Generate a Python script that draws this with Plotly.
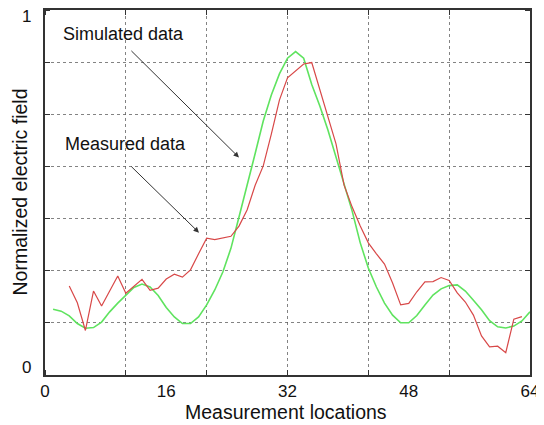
import plotly.graph_objects as go

# Sample positions (measurement index; axis labels 0..64 sit at indices 0,15,30,45,60)
measured_x = list(range(3, 60))
measured_y = [0.244, 0.198, 0.122, 0.230, 0.189, 0.232, 0.271, 0.224, 0.244, 0.262,
              0.232, 0.238, 0.263, 0.276, 0.268, 0.288, 0.332, 0.375, 0.371, 0.375,
              0.380, 0.408, 0.452, 0.520, 0.573, 0.660, 0.753, 0.814, 0.833, 0.852,
              0.856, 0.780, 0.707, 0.633, 0.520, 0.460, 0.408, 0.362, 0.332, 0.304,
              0.252, 0.192, 0.196, 0.228, 0.255, 0.256, 0.267, 0.259, 0.225, 0.200,
              0.164, 0.107, 0.077, 0.079, 0.061, 0.153, 0.160]

simulated_x = list(range(1, 61))
simulated_y = [0.180, 0.175, 0.162, 0.141, 0.128, 0.130, 0.145, 0.173, 0.197, 0.219,
               0.240, 0.249, 0.241, 0.218, 0.185, 0.159, 0.141, 0.141, 0.159, 0.192,
               0.233, 0.282, 0.347, 0.433, 0.517, 0.607, 0.696, 0.767, 0.825, 0.868,
               0.886, 0.868, 0.796, 0.737, 0.671, 0.595, 0.521, 0.449, 0.362, 0.293,
               0.241, 0.197, 0.164, 0.143, 0.143, 0.163, 0.192, 0.219, 0.236, 0.245,
               0.247, 0.230, 0.205, 0.179, 0.149, 0.132, 0.129, 0.134, 0.148, 0.173]

x_tick_vals = [0, 15, 30, 45, 60]
x_tick_text = ["0", "16", "32", "48", "64"]
y_tick_vals = [0, 1]
y_tick_text = ["0", "1"]

FONT = "Liberation Sans, Arial, sans-serif"
GRID = "rgba(90,90,90,0.75)"

fig = go.Figure()
fig.add_trace(go.Scatter(x=simulated_x, y=simulated_y, mode="lines",
                         line=dict(color="#5fe35f", width=1.6), name="Simulated data"))
fig.add_trace(go.Scatter(x=measured_x, y=measured_y, mode="lines",
                         line=dict(color="#d84848", width=1.2), name="Measured data"))

annots = [
    dict(x=9.77, y=0.933, xref="x", yref="y", text="Simulated data", showarrow=False,
         font=dict(size=18, color="#111")),
    dict(x=10.0, y=0.632, xref="x", yref="y", text="Measured data", showarrow=False,
         font=dict(size=18, color="#111")),
    dict(x=24.0, y=0.596, xref="x", yref="y", ax=10.5, ay=0.892, axref="x", ayref="y",
         text="", showarrow=True, arrowhead=2, arrowsize=1.1, arrowwidth=1,
         arrowcolor="#333"),
    dict(x=19.05, y=0.390, xref="x", yref="y", ax=10.5, ay=0.575, axref="x", ayref="y",
         text="", showarrow=True, arrowhead=2, arrowsize=1.1, arrowwidth=1,
         arrowcolor="#333"),
    # axis titles
    dict(x=-0.0536, y=0.5, xref="paper", yref="paper", text="Normalized electric field",
         textangle=-90, showarrow=False, xanchor="center", yanchor="middle",
         font=dict(size=19.5, color="#111")),
    dict(x=0.497, y=-0.1, xref="paper", yref="paper", text="Measurement locations",
         showarrow=False, xanchor="center", yanchor="middle",
         font=dict(size=19.5, color="#111")),
]
# y tick labels, nudged inside the axis ends as in the original figure
for v, t, shift in zip(y_tick_vals, y_tick_text, [8, -6]):
    annots.append(dict(x=-0.0247, y=v, xref="paper", yref="y", text=t, showarrow=False,
                       xanchor="right", yanchor="middle", yshift=shift,
                       font=dict(size=17, color="#111")))

# page body has an 8px margin, so the figure is sized/offset to compensate
fig.update_layout(
    width=536, height=417,
    margin=dict(l=37, r=14, t=2, b=50),
    paper_bgcolor="white", plot_bgcolor="white",
    showlegend=False,
    font=dict(family=FONT, size=17, color="#111"),
    annotations=annots,
)
fig.update_xaxes(
    range=[0, 60], tickmode="array", tickvals=x_tick_vals, ticktext=x_tick_text,
    ticks="", showgrid=False, zeroline=False, automargin=False,
    showline=True, linecolor="#333", linewidth=1.5, mirror="allticks",
    minor=dict(dtick=10, tick0=0, showgrid=True, gridcolor=GRID, griddash="dot",
               gridwidth=1, ticks="inside", ticklen=5, tickcolor="#333"),
    tickfont=dict(size=17),
)
fig.update_yaxes(
    range=[0, 1], tickmode="array", tickvals=y_tick_vals, ticktext=y_tick_text,
    showticklabels=False,
    ticks="", showgrid=False, zeroline=False, automargin=False,
    showline=True, linecolor="#333", linewidth=1.5, mirror="allticks",
    minor=dict(dtick=1/7, tick0=0, showgrid=True, gridcolor=GRID, griddash="dot",
               gridwidth=1, ticks="inside", ticklen=5, tickcolor="#333"),
)

fig.write_html("out.html")
